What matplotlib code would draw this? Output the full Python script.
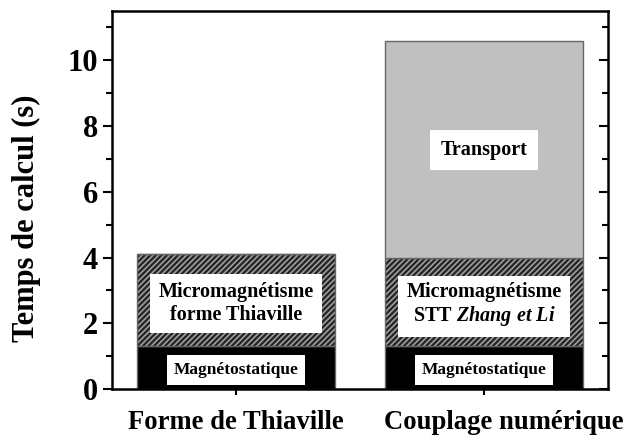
import matplotlib.pyplot as plt
import matplotlib.transforms as mtransforms
from matplotlib.ticker import MultipleLocator

categories = ["Forme de Thiaville", "Couplage numérique"]
magneto = [1.3, 1.3]
micromag = [2.8, 2.7]
transport = [0.0, 6.6]

plt.rcParams['font.family'] = ['Liberation Serif', 'DejaVu Serif']
plt.rcParams['font.weight'] = 'bold'
plt.rcParams['mathtext.fontset'] = 'custom'
plt.rcParams['mathtext.it'] = 'Liberation Serif:italic:bold'
plt.rcParams['mathtext.rm'] = 'Liberation Serif:bold'
plt.rcParams['hatch.linewidth'] = 1.7

fig = plt.figure(figsize=(6.27, 4.43), dpi=100)
ax = fig.add_axes([0.1786, 0.1219, 0.7911, 0.8533])

x = range(len(categories))
w = 0.8
edge = '#666666'
bottom2 = [m + n for m, n in zip(magneto, micromag)]

ax.bar(x, magneto, w, color='black', edgecolor=edge, linewidth=1)
ax.bar(x, micromag, w, bottom=magneto, color='#a4a4a4', edgecolor='#262626',
       hatch='//////', linewidth=0)
ax.bar(x, micromag, w, bottom=magneto, fill=False, edgecolor=edge, linewidth=1)
ax.bar(x, transport, w, bottom=bottom2, color='#c0c0c0', edgecolor=edge, linewidth=1)

box = dict(boxstyle='square,pad=0.4', facecolor='white', edgecolor='none')
for i in x:
    ax.text(i, magneto[i] / 2 - 0.07, "Magnétostatique", ha='center', va='center',
            fontsize=12.5, fontweight='bold', bbox=box)
micro_labels = ["Micromagnétisme\nforme Thiaville", "Micromagnétisme\nSTT $\\it{Zhang\\ et\\ Li}$"]
for i in x:
    ax.text(i, magneto[i] + micromag[i] / 2 - 0.1, micro_labels[i], ha='center',
            va='center', fontsize=14.5, fontweight='bold', bbox=box, linespacing=1.15)
ax.text(1, bottom2[1] + transport[1] / 2 - 0.02, "Transport", ha='center', va='center',
        fontsize=14.5, fontweight='bold', bbox=dict(boxstyle='square,pad=0.5',
                                                     facecolor='white', edgecolor='none'))

ax.set_xlim(-0.5, 1.5)
ax.set_ylim(0, 11.5)
ax.set_xticks(list(x))
ax.set_xticklabels(categories, fontsize=19.2, fontweight='bold')
ax.yaxis.set_major_locator(MultipleLocator(2))
ax.yaxis.set_minor_locator(MultipleLocator(1))
ax.set_ylabel("Temps de calcul (s)", fontsize=22, fontweight='bold', labelpad=19)
ax.yaxis.label.set_y(0.452)
for lab in ax.get_yticklabels():
    lab.set_fontsize(22)
    lab.set_fontweight('bold')

for s in ax.spines.values():
    s.set_linewidth(1.8)
ax.tick_params(axis='y', which='major', direction='out', length=6.5, width=1.5)
ax.tick_params(axis='y', which='minor', direction='out', length=4, width=1.5)
ax.tick_params(axis='x', direction='out', length=4, width=1.5, pad=11)

# second category label sits a bit right of its tick in the original
lbls = ax.get_xticklabels()
lbls[1].set_transform(lbls[1].get_transform() +
                      mtransforms.ScaledTranslation(0.2, 0, fig.dpi_scale_trans))

# inward ticks on the right side
ax2 = ax.twinx()
ax2.set_ylim(ax.get_ylim())
ax2.yaxis.set_major_locator(MultipleLocator(2))
ax2.yaxis.set_minor_locator(MultipleLocator(1))
ax2.tick_params(axis='y', which='major', direction='in', length=6.5, width=1.5, labelright=False)
ax2.tick_params(axis='y', which='minor', direction='in', length=4, width=1.5)
for s in ax2.spines.values():
    s.set_visible(False)

plt.savefig("out.png", dpi=100)
